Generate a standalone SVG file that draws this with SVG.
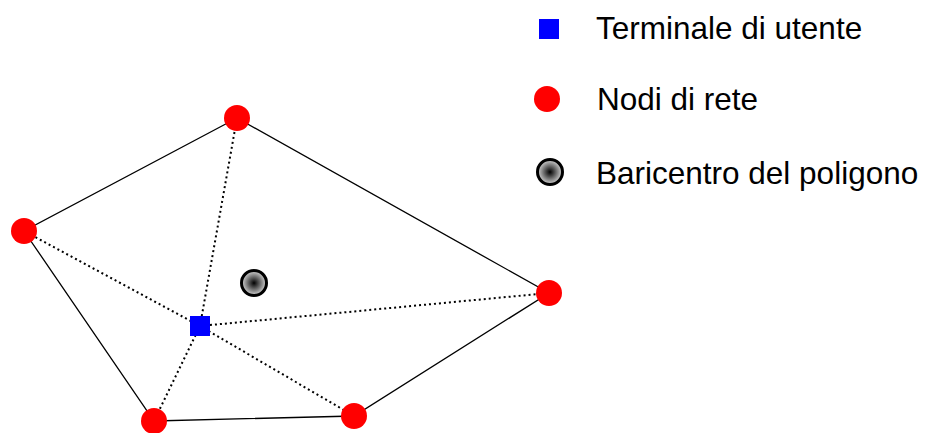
<svg xmlns="http://www.w3.org/2000/svg" width="927" height="433" viewBox="0 0 927 433">
<style>
.solid{stroke:#000;stroke-width:1.3;fill:none}
.dot{stroke:#000;stroke-width:2;stroke-dasharray:2 3;fill:none}
.node{fill:#f00}
.term{fill:#00f}
.bary{fill:url(#g);stroke:#000;stroke-width:3}
.lbl{font-family:"Liberation Sans",Arial,sans-serif;font-size:31.5px;fill:#000}
</style>
<defs>
<radialGradient id="g" cx="50%" cy="50%" r="50%">
<stop offset="0" stop-color="#000"/>
<stop offset="1" stop-color="#d8d8d8"/>
</radialGradient>
</defs>
<rect width="927" height="433" fill="#fff"/>
<g id="connectors">
<polyline class="solid" points="237,118 24,231 154,421 354,416 549,293 237,118"/>
<line class="dot" x1="200" y1="326" x2="237" y2="118"/>
<line class="dot" x1="200" y1="326" x2="24" y2="231"/>
<line class="dot" x1="200" y1="326" x2="154" y2="421"/>
<line class="dot" x1="200" y1="326" x2="354" y2="416"/>
<line class="dot" x1="200" y1="326" x2="549" y2="293"/>
</g>
<g id="n-top"><circle class="node" cx="237" cy="118" r="13"/></g>
<g id="n-left"><circle class="node" cx="24" cy="231" r="13"/></g>
<g id="n-bl"><circle class="node" cx="154" cy="421" r="13"/></g>
<g id="n-br"><circle class="node" cx="354" cy="416" r="13"/></g>
<g id="n-right"><circle class="node" cx="549" cy="293" r="13"/></g>
<g id="terminal"><rect class="term" x="190" y="316" width="20" height="20"/></g>
<g id="barycenter"><circle class="bary" cx="254" cy="283" r="12.5"/></g>
<g id="legend-terminal"><rect class="term" x="539" y="19" width="20" height="20"/><text class="lbl" x="596" y="39">Terminale di utente</text></g>
<g id="legend-node"><circle class="node" cx="547" cy="99" r="13"/><text class="lbl" x="597" y="110">Nodi di rete</text></g>
<g id="legend-bary"><circle class="bary" cx="550" cy="172" r="12.5"/><text class="lbl" x="596" y="184">Baricentro del poligono</text></g>
</svg>
